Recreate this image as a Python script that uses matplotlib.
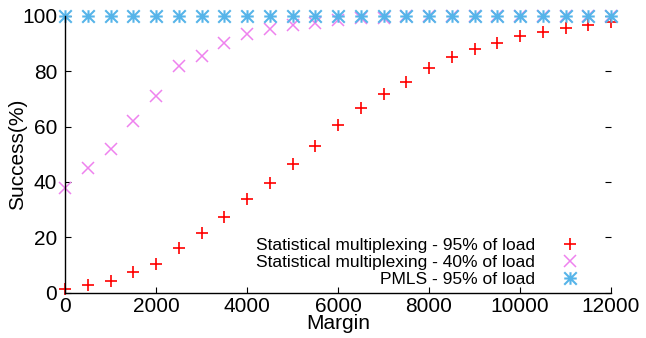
import numpy as np
import matplotlib
matplotlib.use("Agg")
import matplotlib.pyplot as plt
from matplotlib.path import Path

plt.rcParams['font.family'] = ['Liberation Sans', 'DejaVu Sans']

# data
margin = list(range(0, 12001, 500))
stat95 = [1.4, 2.8, 4.2, 7.3, 10.3, 16.3, 21.4, 27.2, 33.8, 39.6, 46.6, 52.9,
          60.6, 66.6, 71.9, 76.0, 81.0, 85.2, 87.9, 90.3, 92.8, 94.0, 95.7, 96.7, 97.7]
stat40 = [37.7, 44.9, 51.9, 62.1, 71.0, 81.8, 85.6, 90.3, 93.3, 95.3, 96.7, 97.3,
          98.3, 99.0, 99.3, 100, 100, 100, 100, 100, 100, 100, 100, 100, 100]
pmls95 = [100] * len(margin)

labels = ["Statistical multiplexing - 95% of load",
          "Statistical multiplexing - 40% of load",
          "PMLS - 95% of load"]
xticks = [0, 2000, 4000, 6000, 8000, 10000, 12000]
yticks = [0, 20, 40, 60, 80, 100]

# gnuplot style asterisk: a plus and a cross on top of each other
star_path = Path(
    [(-1, 0), (1, 0), (0, -1), (0, 1), (-1, -1), (1, 1), (-1, 1), (1, -1)],
    [Path.MOVETO, Path.LINETO] * 4)

fig = plt.figure(figsize=(6.46, 3.38), dpi=100)
ax = fig.add_axes([65/646, 1-292.7/338, (611-65)/646, (292.7-15.7)/338])

ms = 8.6
ax.plot(margin, stat95, linestyle='none', marker='+', color='#ff0000', ms=ms, mew=1.2,
        clip_on=False, label=labels[0])
ax.plot(margin, stat40, linestyle='none', marker='x', color='#ee82ee', ms=ms, mew=1.1,
        clip_on=False, label=labels[1])
ax.plot(margin, pmls95, linestyle='none', marker=star_path, color='#56b4e9', mfc='none',
        ms=ms + 0.4, mew=1.5, clip_on=False, label=labels[2])

ax.set_xlim(0, 12000)
ax.set_ylim(0, 100)
ax.set_xticks(xticks)
ax.set_yticks(yticks)
ax.spines['top'].set_visible(False)
ax.spines['right'].set_visible(False)
for s in ('left', 'bottom'):
    ax.spines[s].set_linewidth(1.0)
ax.tick_params(direction='in', length=4.3, width=0.8, labelsize=15, right=True)
ax.tick_params(axis='y', pad=5.5)
ax.tick_params(axis='x', pad=3)

ax.set_xlabel("Margin", fontsize=15, labelpad=-1)
ax.set_ylabel("Success(%)", fontsize=15)
ax.yaxis.set_label_coords((27-65)/546, 0.5)

ax.legend(loc='lower right', bbox_to_anchor=(587/646, 1-287.5/338), bbox_transform=fig.transFigure,
          frameon=False, markerfirst=False, fontsize=12.5, borderpad=0, borderaxespad=0,
          labelspacing=0.12, handletextpad=1.0, handlelength=2.0)

fig.savefig("out.png", dpi=100)
